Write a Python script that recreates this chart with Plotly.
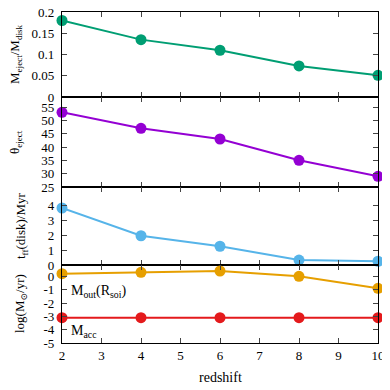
import plotly.graph_objects as go

redshift = [2, 4, 6, 8, 10]
m_eject_ratio = [0.18, 0.135, 0.11, 0.073, 0.051]
theta_eject = [53, 47, 43, 35, 29]
t_ff_disk = [3.8, 1.95, 1.25, 0.33, 0.25]
log_mout = [0.2, 0.3, 0.4, 0.0, -0.9]
log_macc = [-3.1, -3.1, -3.1, -3.1, -3.1]

FONT = "Liberation Serif, DejaVu Serif, serif"
fig = go.Figure()

def add(x, y, color, ax):
    fig.add_trace(go.Scatter(
        x=x, y=y, mode="lines+markers",
        line=dict(color=color, width=2),
        marker=dict(color=color, size=11),
        cliponaxis=False, showlegend=False,
        xaxis="x" + ax, yaxis="y" + ax))

add(redshift, m_eject_ratio, "#009e73", "")
add(redshift, theta_eject, "#9400d3", "2")
add(redshift, t_ff_disk, "#56b4e9", "3")
add(redshift, log_mout, "#e69f00", "4")
add(redshift, log_macc, "#e41a1c", "4")

OFF = 8  # default page body margin
FIG = 390 - OFF
# plot area in page pixels: x 62..378, y 12..343
PX0, PX1, PY0, PY1 = 62, 378, 12, 343
L, R, T, B = PX0 - OFF, OFF + FIG - PX1, PY0 - OFF, OFF + FIG - PY1
W = PX1 - PX0
H = PY1 - PY0
d4 = [0, 78 / H]
d3 = [78 / H, 156 / H]
d2 = [156 / H, 246 / H]
d1 = [246 / H, 1]

tickfont = dict(family=FONT, size=13, color="black")
common = dict(showline=True, linecolor="black", linewidth=1.2, mirror="ticks",
              ticks="inside", ticklen=5, tickcolor="#444", showgrid=False,
              zeroline=False, tickfont=tickfont, automargin=False,
              ticklabeloverflow="allow")

def xax(anchor, labels):
    return dict(common, range=[2, 10], tickmode="array", tickvals=list(range(2, 11)),
                anchor=anchor, showticklabels=labels)

def yax(domain, rng, tickvals, anchor):
    return dict(common, domain=domain, range=rng, tickmode="array", tickvals=tickvals,
                ticktext=[("%g" % v) for v in tickvals], anchor=anchor,
                ticklabelstandoff=4)

def px_x(px):
    return (px - PX0) / W

def px_y(py):
    return (PY1 - py) / H

def ytitle(text, xpx, ypx):
    return dict(text=text, x=px_x(xpx), y=px_y(ypx), xref="paper", yref="paper",
                xanchor="center", yanchor="middle", textangle=-90, showarrow=False,
                font=dict(family=FONT, size=13, color="black"))

fig.update_layout(
    width=FIG, height=FIG,
    margin=dict(l=L, r=R, t=T, b=B),
    plot_bgcolor="white", paper_bgcolor="white",
    font=dict(family=FONT, size=13, color="black"),
    xaxis=xax("y", False),
    xaxis2=xax("y2", False),
    xaxis3=xax("y3", False),
    xaxis4=xax("y4", True),
    yaxis=yax(d1, [0, 0.2], [0, 0.05, 0.1, 0.15, 0.2], "x"),
    yaxis2=yax(d2, [25, 58.75], [25, 30, 35, 40, 45, 50, 55], "x2"),
    yaxis3=yax(d3, [0, 5.2], [0, 1, 2, 3, 4], "x3"),
    yaxis4=yax(d4, [-5, 0.85], [-5, -4, -3, -2, -1, 0], "x4"),
    annotations=[
        ytitle("M<sub>eject</sub>/M<sub>disk</sub>", 15, 54),
        ytitle("θ<sub>eject</sub>", 16, 142),
        ytitle("t<sub>ff</sub>(disk)/Myr", 22, 226),
        ytitle("log(M<sub>⊙</sub>/yr)", 20, 304),
        dict(text="redshift", x=px_x(220), y=px_y(378), xref="paper", yref="paper",
             xanchor="center", yanchor="middle", showarrow=False,
             font=dict(family=FONT, size=14, color="black")),
        dict(text="M<sub>out</sub>(R<sub>soi</sub>)", x=2.18, y=-1.15, xref="x4", yref="y4",
             xanchor="left", yanchor="middle", showarrow=False,
             font=dict(family=FONT, size=14, color="black")),
        dict(text="M<sub>acc</sub>", x=2.18, y=-4.1, xref="x4", yref="y4",
             xanchor="left", yanchor="middle", showarrow=False,
             font=dict(family=FONT, size=14, color="black")),
    ],
)

fig.write_html("out.html")
